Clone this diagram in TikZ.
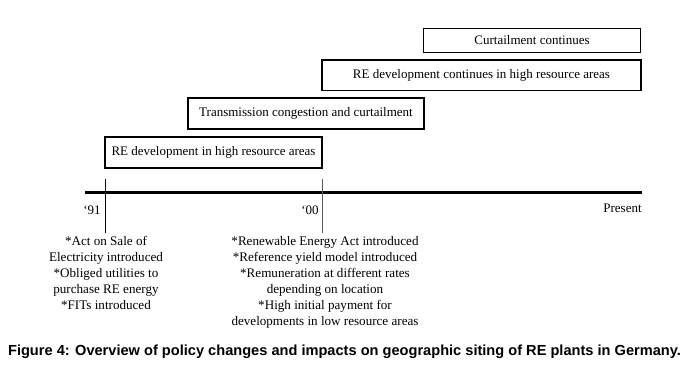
\documentclass[tikz,border=0pt]{standalone}
\usepackage{fontspec}
\setmainfont{Liberation Serif}
\newfontfamily\capfont{Liberation Sans}
\usepackage{tikz}
\usetikzlibrary{positioning}

\begin{document}
\begin{tikzpicture}[x=1pt, y=-1pt,
  stage/.style={draw=black, line width=1.4pt, inner sep=0pt,
    font=\fontsize{13}{15}\selectfont, align=center},
  tick/.style={line width=0.9pt},
  yearlbl/.style={font=\fontsize{13}{15}\selectfont, inner sep=0pt},
  note/.style={font=\fontsize{13.1}{16.1}\selectfont, align=center,
    inner sep=0pt}]
  \useasboundingbox (0,0) rectangle (687,367);

  % stages above the time line
  \node[stage, minimum width=217pt, minimum height=31pt] (s1) at (213.5,152.5)
    {RE development in high resource areas};
  \node[stage, minimum width=236pt, minimum height=31pt] (s2) at (306,113.5)
    {Transmission congestion and curtailment};
  \node[stage, minimum width=319pt, minimum height=30.5pt] (s3) at (481.5,75.3)
    {RE development continues in high resource areas};
  \node[stage, minimum width=216.5pt, minimum height=24.5pt] (s4) at (532,40.5)
    {Curtailment continues};

  % time line and ticks
  \coordinate (ax0) at (85,192.5);
  \coordinate (ax1) at (642,192.5);
  \coordinate (k91a) at (105,179);
  \coordinate (k91b) at (105,233);
  \coordinate (k00a) at (322,179);
  \coordinate (k00b) at (322,233);
  \draw[line width=3.6pt] (ax0) -- (ax1);
  \draw[tick] (k91a) -- (k91b);
  \draw[tick, black!65] (k00a) -- (k00b);

  \node[yearlbl] (y91) at (92,210) {‘91};
  \node[yearlbl] (y00) at (310,210) {‘00};
  \node[yearlbl] (ynow) at (622.5,208) {Present};

  % policy notes
  \node[note, below=3pt of k91b, xshift=1pt] (n91) {*Act on Sale of\\
    Electricity introduced\\*Obliged utilities to\\purchase RE energy\\
    *FITs introduced};
  \node[note, below=3pt of k00b, xshift=3pt] (n00) {*Renewable Energy Act introduced\\
    *Reference yield model introduced\\*Remuneration at different rates\\
    depending on location\\*High initial payment for\\
    developments in low resource areas};

  \node[font=\capfont\bfseries\fontsize{14.6}{16}\selectfont, inner sep=0pt] (cap)
    at (344.5,352) {Figure 4: Overview of policy changes and impacts on geographic siting of RE plants in Germany.};
\end{tikzpicture}
\end{document}
